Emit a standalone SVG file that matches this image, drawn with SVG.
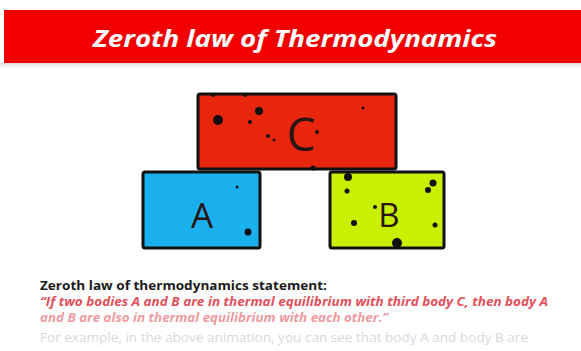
<svg xmlns="http://www.w3.org/2000/svg" width="581" height="351" viewBox="0 0 581 351">
<defs>
<style>
.box{stroke:#111;stroke-width:3}
.dot{fill:#111}
.lbl{font-family:"Open Sans","Noto Sans","Liberation Sans",sans-serif;fill:#2a1414;text-anchor:middle}
.txt{font-family:"Open Sans","Noto Sans","Liberation Sans",sans-serif}
</style>
<linearGradient id="shadow" x1="0" y1="0" x2="0" y2="1">
<stop offset="0" stop-color="#e8e0e0"/>
<stop offset="1" stop-color="#ffffff"/>
</linearGradient>
</defs>
<rect width="581" height="351" fill="#ffffff"/>
<g id="banner">
<rect x="0" y="63" width="581" height="6" fill="url(#shadow)"/>
<rect x="4" y="10" width="577" height="53" fill="#f20000"/>
<text x="295" y="47" class="txt" font-size="24" font-weight="bold" font-style="italic" fill="#ffffff" text-anchor="middle" textLength="404" lengthAdjust="spacingAndGlyphs">Zeroth law of Thermodynamics</text>
</g>
<g id="bodyC">
<rect x="198" y="94" width="198" height="75" rx="2" class="box" fill="#e8260e"/>
<circle class="dot" cx="218" cy="120" r="5"/>
<circle class="dot" cx="259" cy="111" r="4"/>
<circle class="dot" cx="250" cy="122" r="2"/>
<circle class="dot" cx="268" cy="136" r="2"/>
<circle class="dot" cx="274" cy="140" r="1.5"/>
<circle class="dot" cx="363" cy="108" r="1.5"/>
<circle class="dot" cx="317" cy="132" r="2"/>
<circle class="dot" cx="213" cy="95" r="2"/>
<circle class="dot" cx="245" cy="95" r="2"/>
<circle class="dot" cx="313" cy="168" r="2.5"/>
<text x="301" y="151" class="lbl" font-size="46">C</text>
</g>
<g id="bodyA">
<rect x="143" y="172" width="117" height="76" rx="2" class="box" fill="#1ab0ee"/>
<circle class="dot" cx="237" cy="187" r="1.5"/>
<circle class="dot" cx="248" cy="232" r="3.5"/>
<text x="202" y="228" class="lbl" font-size="35">A</text>
</g>
<g id="bodyB">
<rect x="330" y="172" width="114" height="76" rx="2" class="box" fill="#c8f000"/>
<circle class="dot" cx="348" cy="177" r="4"/>
<circle class="dot" cx="347" cy="191" r="2.5"/>
<circle class="dot" cx="433" cy="183" r="3.5"/>
<circle class="dot" cx="428" cy="190" r="3"/>
<circle class="dot" cx="375" cy="207" r="2"/>
<circle class="dot" cx="354" cy="223" r="3"/>
<circle class="dot" cx="435" cy="225" r="2.5"/>
<circle class="dot" cx="397" cy="243" r="5"/>
<text x="389" y="227" class="lbl" font-size="33">B</text>
</g>
<g id="statement">
<text x="40" y="290" class="txt" font-size="13" font-weight="bold" fill="#1a1a1a" textLength="287" lengthAdjust="spacingAndGlyphs">Zeroth law of thermodynamics statement:</text>
<text x="40" y="306" class="txt" font-size="12" font-weight="bold" font-style="italic" fill="#e2505a" textLength="508" lengthAdjust="spacingAndGlyphs">“If two bodies A and B are in thermal equilibrium with third body C, then body A</text>
<text x="40" y="322" class="txt" font-size="12" font-weight="bold" font-style="italic" fill="#ee9aa0" textLength="348" lengthAdjust="spacingAndGlyphs">and B are also in thermal equilibrium with each other.”</text>
<text x="40" y="342" class="txt" font-size="12" fill="#d8d8dc" textLength="488" lengthAdjust="spacingAndGlyphs">For example, in the above animation, you can see that body A and body B are</text>
</g>
</svg>
